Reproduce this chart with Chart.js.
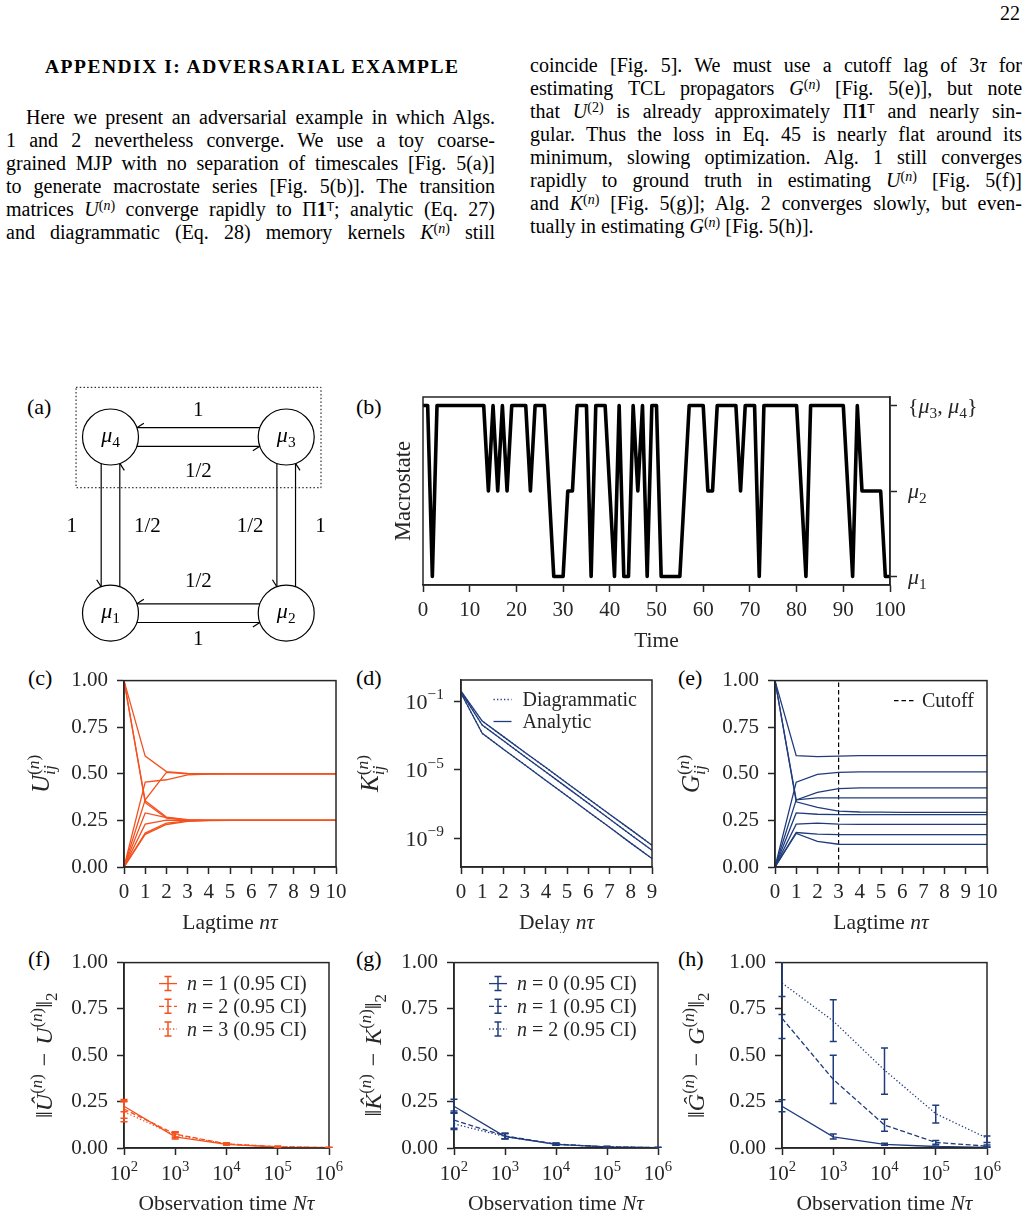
<!DOCTYPE html>
<html>
<head>
<meta charset="utf-8">
<script src="https://cdn.jsdelivr.net/npm/chart.js@4.4.0/dist/chart.umd.min.js"></script>
<style>
body { margin: 0; background: #fff; }
#page { position: relative; width: 1028px; height: 1217px; overflow: hidden; font-family: "Liberation Serif", "DejaVu Serif", serif; color: #000; }
.ln { position: absolute; font-size: 20px; line-height: 23px; white-space: nowrap; text-align: justify; text-align-last: justify; }
.ln.last { text-align: left; text-align-last: left; }
sup { font-size: 0.7em; vertical-align: 0; position: relative; top: -0.45em; line-height: 0; }
.sf { font-family: "DejaVu Sans", sans-serif; font-size: 0.6em; }
.pl { position: absolute; font-size: 22px; line-height: 22px; }
#head { position: absolute; left: 45px; top: 55px; font-size: 19.5px; font-weight: bold; line-height: 23px; white-space: nowrap; }
#pgno { position: absolute; left: 1000px; top: 2px; font-size: 20px; line-height: 23px; }
canvas { position: absolute; }
</style>
</head>
<body>
<div id="page">
  <div id="pgno">22</div>
  <div id="head" data-w="413">APPENDIX I: ADVERSARIAL EXAMPLE</div>

  <div class="ln" style="left:26px;top:106px;width:469px">Here we present an adversarial example in which Algs.</div>
  <div class="ln" style="left:6px;top:129px;width:489px">1 and 2 nevertheless converge. We use a toy coarse-</div>
  <div class="ln" style="left:6px;top:152px;width:489px">grained MJP with no separation of timescales [Fig. 5(a)]</div>
  <div class="ln" style="left:6px;top:175px;width:489px">to generate macrostate series [Fig. 5(b)]. The transition</div>
  <div class="ln" style="left:6px;top:198px;width:489px">matrices <i>U</i><sup>(<i>n</i>)</sup> converge rapidly to Π<b>1</b><sup class="sf">T</sup>; analytic (Eq. 27)</div>
  <div class="ln" style="left:6px;top:221px;width:489px">and diagrammatic (Eq. 28) memory kernels <i>K</i><sup>(<i>n</i>)</sup> still</div>

  <div class="ln" style="left:530px;top:54px;width:492px">coincide [Fig. 5]. We must use a cutoff lag of 3<i>τ</i> for</div>
  <div class="ln" style="left:530px;top:77px;width:492px">estimating TCL propagators <i>G</i><sup>(<i>n</i>)</sup> [Fig. 5(e)], but note</div>
  <div class="ln" style="left:530px;top:100px;width:492px">that <i>U</i><sup>(2)</sup> is already approximately Π<b>1</b><sup class="sf">T</sup> and nearly sin-</div>
  <div class="ln" style="left:530px;top:123px;width:492px">gular. Thus the loss in Eq. 45 is nearly flat around its</div>
  <div class="ln" style="left:530px;top:146px;width:492px">minimum, slowing optimization. Alg. 1 still converges</div>
  <div class="ln" style="left:530px;top:169px;width:492px">rapidly to ground truth in estimating <i>U</i><sup>(<i>n</i>)</sup> [Fig. 5(f)]</div>
  <div class="ln" style="left:530px;top:192px;width:492px">and <i>K</i><sup>(<i>n</i>)</sup> [Fig. 5(g)]; Alg. 2 converges slowly, but even-</div>
  <div class="ln last" style="left:530px;top:215px;width:492px">tually in estimating <i>G</i><sup>(<i>n</i>)</sup> [Fig. 5(h)].</div>

  <div class="pl" style="left:27px;top:396px">(a)</div>
  <div class="pl" style="left:356px;top:396px">(b)</div>
  <div class="pl" style="left:28px;top:667px">(c)</div>
  <div class="pl" style="left:356px;top:667px">(d)</div>
  <div class="pl" style="left:678px;top:667px">(e)</div>
  <div class="pl" style="left:28px;top:948px">(f)</div>
  <div class="pl" style="left:356px;top:948px">(g)</div>
  <div class="pl" style="left:678px;top:948px">(h)</div>
</div>

<script>
const SERIF = '"Liberation Serif", "DejaVu Serif", serif';
const SANS = '"DejaVu Sans", sans-serif';
const INK = '#262626';
const ORANGE = '#f4511e';
const NAVY = '#203c7c';

// (a) toy MJP: mu1..mu4 at the corners of a unit square
const nodeX = [0, 1, 1, 0];
const nodeY = [0, 0, 1, 1];
const nodeTags = ['1', '2', '3', '4'];
const edgeFrom = [2, 3, 3, 0, 2, 1, 1, 0];
const edgeTo   = [3, 2, 0, 3, 1, 2, 0, 1];
const edgeRate = ['1', '1/2', '1', '1/2', '1/2', '1', '1/2', '1'];
const boxX = [-0.196, 1.198, 1.198, -0.196, -0.196];
const boxY = [1.282, 1.282, 0.712, 0.712, 1.282];

// (b) macrostate series: 0 = mu1, 1 = mu2, 2 = {mu3, mu4}
const timeAxis = Array.from({ length: 101 }, (_, i) => i);
const macrostate = [
  2, 2, 0, 2, 2, 2, 2, 2, 2, 2,
  2, 2, 2, 2, 1, 2, 1, 2, 1, 2,
  2, 2, 2, 1, 2, 2, 2, 1, 0, 0,
  0, 1, 1, 2, 2, 2, 0, 2, 2, 2,
  1, 0, 2, 0, 0, 2, 1, 2, 0, 2,
  2, 0, 0, 0, 0, 0, 1, 2, 2, 2,
  2, 1, 1, 2, 2, 2, 2, 2, 1, 2,
  2, 2, 0, 2, 2, 2, 2, 2, 2, 2,
  2, 1, 0, 2, 2, 2, 2, 2, 2, 2,
  2, 1, 0, 2, 1, 1, 1, 1, 1, 0,
  0
];
const macroTicks = [0, 1, 2];
const macroLabels = [
  [['μ', 'i'], ['1', '_']],
  [['μ', 'i'], ['2', '_']],
  [['{'], ['μ', 'i'], ['3', '_'], [', '], ['μ', 'i'], ['4', '_'], ['}']]
];

// (c) transition matrices U_ij(n)
const lagN = [0, 1, 2, 3, 4, 5, 6, 7, 8, 9, 10];
const uCurves = [
  [1, 0.595, 0.512, 0.502, 0.500, 0.500, 0.500, 0.500, 0.500, 0.500, 0.500],
  [0, 0.455, 0.468, 0.494, 0.499, 0.500, 0.500, 0.500, 0.500, 0.500, 0.500],
  [0, 0.360, 0.508, 0.500, 0.500, 0.500, 0.500, 0.500, 0.500, 0.500, 0.500],
  [1, 0.355, 0.268, 0.254, 0.251, 0.250, 0.250, 0.250, 0.250, 0.250, 0.250],
  [1, 0.345, 0.262, 0.252, 0.250, 0.250, 0.250, 0.250, 0.250, 0.250, 0.250],
  [0, 0.290, 0.265, 0.252, 0.250, 0.250, 0.250, 0.250, 0.250, 0.250, 0.250],
  [0, 0.230, 0.252, 0.250, 0.250, 0.250, 0.250, 0.250, 0.250, 0.250, 0.250],
  [0, 0.182, 0.235, 0.247, 0.250, 0.250, 0.250, 0.250, 0.250, 0.250, 0.250],
  [0, 0.175, 0.228, 0.245, 0.249, 0.250, 0.250, 0.250, 0.250, 0.250, 0.250]
];

// (d) memory kernels K_ij(n)
const delayN = [0, 1, 2, 3, 4, 5, 6, 7, 8, 9];
const kCurves = [
  [0.40, 7.1e-3, 8.7e-4, 1.07e-4, 1.35e-5, 1.66e-6, 2.04e-7, 2.5e-8, 3.2e-9, 3.9e-10],
  [0.35, 4.1e-3, 5.0e-4, 6.0e-5, 7.4e-6, 9.1e-7, 1.1e-7, 1.35e-8, 1.6e-9, 2.0e-10],
  [0.30, 1.35e-3, 1.6e-4, 2.0e-5, 2.4e-6, 2.95e-7, 3.5e-8, 4.4e-9, 5.2e-10, 6.5e-11]
];
const kTicks = [1e-9, 1e-5, 1e-1];
const kTickLabels = [
  [['10'], ['−9', '^']],
  [['10'], ['−5', '^']],
  [['10'], ['−1', '^']]
];

// (e) TCL propagators G_ij(n)
const gCurves = [
  [1, 0.597, 0.592, 0.595, 0.597, 0.597, 0.597, 0.597, 0.597, 0.597, 0.597],
  [0, 0.455, 0.497, 0.508, 0.510, 0.510, 0.510, 0.510, 0.510, 0.510, 0.510],
  [0, 0.360, 0.400, 0.420, 0.424, 0.425, 0.425, 0.425, 0.425, 0.425, 0.425],
  [1, 0.360, 0.371, 0.371, 0.371, 0.371, 0.371, 0.371, 0.371, 0.371, 0.371],
  [1, 0.350, 0.320, 0.300, 0.295, 0.294, 0.293, 0.293, 0.293, 0.293, 0.293],
  [0, 0.290, 0.283, 0.281, 0.281, 0.281, 0.281, 0.281, 0.281, 0.281, 0.281],
  [0, 0.230, 0.235, 0.230, 0.229, 0.229, 0.229, 0.229, 0.229, 0.229, 0.229],
  [0, 0.185, 0.176, 0.174, 0.174, 0.174, 0.174, 0.174, 0.174, 0.174, 0.174],
  [0, 0.180, 0.137, 0.122, 0.121, 0.121, 0.121, 0.121, 0.121, 0.121, 0.121]
];
const cutoffLag = 3;

// (f)-(h) estimation error vs observation time, with 0.95 CI
const obsTimes = [1e2, 1e3, 1e4, 1e5, 1e6];
const obsTickLabels = [
  [['10'], ['2', '^']], [['10'], ['3', '^']], [['10'], ['4', '^']], [['10'], ['5', '^']], [['10'], ['6', '^']]
];
const uErrMean = [[0.225, 0.060, 0.020, 0.005, 0.002], [0.210, 0.075, 0.022, 0.007, 0.002], [0.195, 0.070, 0.022, 0.007, 0.002]];
const uErrLo   = [[0.195, 0.048, 0.016, 0.003, 0.001], [0.160, 0.060, 0.018, 0.005, 0.001], [0.142, 0.055, 0.017, 0.005, 0.001]];
const uErrHi   = [[0.262, 0.075, 0.025, 0.007, 0.003], [0.255, 0.088, 0.027, 0.009, 0.003], [0.250, 0.085, 0.027, 0.009, 0.003]];
const kErrMean = [[0.225, 0.062, 0.020, 0.006, 0.002], [0.150, 0.065, 0.021, 0.006, 0.002], [0.130, 0.062, 0.020, 0.006, 0.002]];
const kErrLo   = [[0.190, 0.050, 0.016, 0.004, 0.001], [0.107, 0.050, 0.016, 0.004, 0.001], [0.100, 0.050, 0.015, 0.004, 0.001]];
const kErrHi   = [[0.263, 0.078, 0.025, 0.008, 0.003], [0.200, 0.080, 0.026, 0.008, 0.003], [0.187, 0.078, 0.025, 0.008, 0.003]];
const gErrMean = [[0.225, 0.060, 0.020, 0.008, 0.003], [0.700, 0.370, 0.124, 0.030, 0.010], [0.890, 0.685, 0.420, 0.185, 0.053]];
const gErrLo   = [[0.195, 0.048, 0.015, 0.005, 0.001], [0.590, 0.240, 0.090, 0.020, 0.004], [0.817, 0.575, 0.290, 0.135, 0.030]];
const gErrHi   = [[0.260, 0.075, 0.025, 0.011, 0.005], [0.720, 0.500, 0.155, 0.040, 0.016], [1.020, 0.800, 0.540, 0.230, 0.065]];

const styles = [[], [5, 2.5], [1.3, 2.2]];

Chart.defaults.font.family = SERIF;
Chart.defaults.font.size = 21;
Chart.defaults.color = INK;
Chart.defaults.animation = false;
Chart.defaults.plugins.legend.display = false;
Chart.defaults.plugins.tooltip.enabled = false;
Chart.defaults.elements.point.radius = 0;
Chart.defaults.layout.autoPadding = false;

// text with italics, super- and subscripts; y is the vertical centre
function drawMath(ctx, parts, x, y, fs, align) {
  const items = [];
  let pen = 0, supStart = null, supEnd = 0, subPen = null;
  for (const p of parts) {
    const t = p[0], f = p[1] || '';
    const small = f.includes('^') || f.includes('_');
    const size = small ? fs * 0.7 : fs;
    const font = (f.includes('i') ? 'italic ' : '') + (f.includes('b') ? 'bold ' : '') + size.toFixed(1) + 'px ' + (f.includes('s') ? SANS : SERIF);
    ctx.font = font;
    const w = ctx.measureText(t).width;
    let x0;
    if (f.includes('^')) { if (supStart === null) supStart = pen; x0 = pen; pen += w; supEnd = pen; subPen = null; }
    else if (f.includes('<')) { if (subPen === null) subPen = supStart; x0 = subPen; subPen += w; pen = Math.max(supEnd, subPen); }
    else { supStart = null; subPen = null; x0 = pen; pen += w; }
    const dy = f.includes('^') ? -fs * 0.42 : (f.includes('_') ? fs * 0.22 : 0);
    items.push({ t, font, x0, dy });
  }
  const start = align === 'center' ? x - pen / 2 : (align === 'right' ? x - pen : x);
  ctx.textAlign = 'left';
  ctx.textBaseline = 'alphabetic';
  for (const it of items) {
    ctx.font = it.font;
    ctx.fillText(it.t, start + it.x0, y + fs * 0.33 + it.dy);
  }
}

function drawLegend(ctx, lg) {
  lg.items.forEach((it, k) => {
    const y = lg.y + k * lg.rowH;
    ctx.save();
    ctx.strokeStyle = it.color;
    ctx.lineWidth = 1.3;
    ctx.setLineDash(it.dash);
    ctx.beginPath(); ctx.moveTo(lg.x, y); ctx.lineTo(lg.x + lg.len, y); ctx.stroke();
    if (it.err) {
      const cx = lg.x + lg.len / 2;
      ctx.setLineDash([]);
      ctx.lineWidth = 1.5;
      ctx.beginPath();
      ctx.moveTo(cx, y - 7); ctx.lineTo(cx, y + 7);
      ctx.moveTo(cx - 3.5, y - 7); ctx.lineTo(cx + 3.5, y - 7);
      ctx.moveTo(cx - 3.5, y + 7); ctx.lineTo(cx + 3.5, y + 7);
      ctx.stroke();
    }
    ctx.restore();
    ctx.fillStyle = INK;
    drawMath(ctx, it.parts, lg.x + lg.textGap, y, 20, 'left');
  });
}

function drawErrors(chart, list) {
  const ctx = chart.ctx, xs = chart.scales.x, ys = chart.scales.y, a = chart.chartArea;
  ctx.save();
  ctx.beginPath(); ctx.rect(a.left - 12, a.top, a.right - a.left + 24, a.bottom - a.top); ctx.clip();
  ctx.lineWidth = 1.5;
  list.forEach(e => {
    ctx.strokeStyle = e.color;
    obsTimes.forEach((t, i) => {
      const px = xs.getPixelForValue(t), p1 = ys.getPixelForValue(e.lo[i]), p2 = ys.getPixelForValue(e.hi[i]);
      ctx.beginPath();
      ctx.moveTo(px, p1); ctx.lineTo(px, p2);
      ctx.moveTo(px - 3.5, p1); ctx.lineTo(px + 3.5, p1);
      ctx.moveTo(px - 3.5, p2); ctx.lineTo(px + 3.5, p2);
      ctx.stroke();
    });
  });
  ctx.restore();
}

Chart.register({
  id: 'deco',
  afterDatasetsDraw(chart) {
    const o = chart.canvas.deco;
    if (!o) return;
    const ctx = chart.ctx, a = chart.chartArea;
    if (o.frame) {
      ctx.save();
      ctx.strokeStyle = INK; ctx.lineWidth = 1.5;
      ctx.strokeRect(a.left, a.top, a.right - a.left, a.bottom - a.top);
      ctx.restore();
    }
    if (o.errors) drawErrors(chart, o.errors);
    if (o.extra) { ctx.save(); o.extra(chart, ctx); ctx.restore(); }
    ctx.save();
    ctx.fillStyle = INK;
    if (o.xLabels) {
      const xs = chart.scales.x;
      o.xLabels.vals.forEach((v, i) => drawMath(ctx, o.xLabels.parts[i], xs.getPixelForValue(v), a.bottom + 25, 21, 'center'));
    }
    if (o.yLabels) {
      const ys = chart.scales.y;
      o.yLabels.vals.forEach((v, i) => drawMath(ctx, o.yLabels.parts[i], o.yLabels.x(a), ys.getPixelForValue(v), o.yLabels.fs || 21, o.yLabels.align));
    }
    if (o.xTitle) drawMath(ctx, o.xTitle, (a.left + a.right) / 2, a.bottom + 54.5, 21.5, 'center');
    if (o.yTitle) {
      ctx.translate(a.left - o.yGap, (a.top + a.bottom) / 2);
      ctx.rotate(-Math.PI / 2);
      drawMath(ctx, o.yTitle, 0, 0, o.yFs || 21.5, 'center');
    }
    ctx.restore();
    if (o.legend) { ctx.save(); drawLegend(ctx, o.legend(a)); ctx.restore(); }
  }
});

function axisLook() {
  return {
    grid: { display: true, drawOnChartArea: false, drawTicks: true, tickLength: 7, tickWidth: 1.5, tickColor: INK, color: INK },
    border: { display: true, color: INK, width: 1.5 }
  };
}
function linAxis(min, max, step, fmt, pad) {
  return Object.assign(axisLook(), {
    type: 'linear', min: min, max: max,
    ticks: { stepSize: step, color: INK, font: { size: 21 }, padding: pad, maxRotation: 0, autoSkip: false, callback: fmt }
  });
}
function logAxis(min, max, tickVals) {
  return Object.assign(axisLook(), {
    type: 'logarithmic', min: min, max: max,
    afterBuildTicks: s => { s.ticks = tickVals.map(v => ({ value: v })); },
    ticks: { autoSkip: false, maxRotation: 0, callback: () => '' }
  });
}

function place(area, m, config, deco) {
  const cv = document.createElement('canvas');
  const w = area.r - area.l + m.l + m.r, h = area.b - area.t + m.t + m.b;
  cv.width = w; cv.height = h;
  cv.style.left = (area.l - m.l) + 'px'; cv.style.top = (area.t - m.t) + 'px';
  cv.style.width = w + 'px'; cv.style.height = h + 'px';
  document.getElementById('page').appendChild(cv);
  cv.deco = deco;
  const yRight = config.options.scales.y.position === 'right';
  config.options.responsive = false;
  config.options.events = [];
  config.options.layout = { autoPadding: false, padding: { left: yRight ? m.l : 0, right: yRight ? 0 : m.r, top: m.t, bottom: 0 } };
  config.options.scales.x.afterFit = s => { s.height = m.b; };
  config.options.scales.y.afterFit = s => { s.width = yRight ? m.r : m.l; };
  return new Chart(cv, config);
}

const fix2 = v => Number(v).toFixed(2);
const plain = v => v;
const xyOf = (xs, ys) => ys.map((v, i) => ({ x: xs[i], y: v }));

// ---- (a) diagram ----
const offU = 0.053, clipU = 0.150;
const labelDist = [0.16, 0.19, 0.22, 0.21, 0.205, 0.195, 0.19, 0.14];
function edgeGeom(k) {
  const a = edgeFrom[k], b = edgeTo[k];
  const d = { x: nodeX[b] - nodeX[a], y: nodeY[b] - nodeY[a] };
  const n = { x: d.y, y: -d.x };
  return {
    d, n,
    start: { x: nodeX[a] + n.x * offU + d.x * clipU, y: nodeY[a] + n.y * offU + d.y * clipU },
    end: { x: nodeX[b] + n.x * offU - d.x * clipU, y: nodeY[b] + n.y * offU - d.y * clipU }
  };
}
(function () {
  const cv = document.createElement('canvas');
  cv.width = 330; cv.height = 285;
  cv.style.left = '20px'; cv.style.top = '375px'; cv.style.width = '330px'; cv.style.height = '285px';
  document.getElementById('page').appendChild(cv);
  const datasets = [{
    data: xyOf(nodeX, nodeY), showLine: false, pointRadius: 28,
    pointBackgroundColor: '#fff', pointBorderColor: '#000', pointBorderWidth: 1.2
  }];
  edgeFrom.forEach((f, k) => {
    const g = edgeGeom(k);
    datasets.push({ data: [g.start, g.end], showLine: true, borderColor: '#000', borderWidth: 1.2, pointRadius: 0 });
  });
  datasets.push({ data: xyOf(boxX, boxY), showLine: true, borderColor: '#000', borderWidth: 1, borderDash: [1.5, 2.2], pointRadius: 0 });
  cv.deco = {
    extra(chart, ctx) {
      const xs = chart.scales.x, ys = chart.scales.y;
      ctx.strokeStyle = '#000'; ctx.lineWidth = 1.2; ctx.fillStyle = '#000';
      edgeFrom.forEach((f, k) => {
        const g = edgeGeom(k);
        const tx = xs.getPixelForValue(g.end.x), ty = ys.getPixelForValue(g.end.y);
        ctx.beginPath();
        ctx.moveTo(tx, ty);
        ctx.lineTo(tx - g.d.x * 7 + g.n.x * 4.5, ty + g.d.y * 7 - g.n.y * 4.5);
        ctx.stroke();
        const mx = (nodeX[f] + nodeX[edgeTo[k]]) / 2 + g.n.x * labelDist[k];
        const my = (nodeY[f] + nodeY[edgeTo[k]]) / 2 + g.n.y * labelDist[k];
        drawMath(ctx, [[edgeRate[k]]], xs.getPixelForValue(mx), ys.getPixelForValue(my), 21, 'center');
      });
      nodeX.forEach((x, i) => {
        drawMath(ctx, [['μ', 'i'], [nodeTags[i], '_']], xs.getPixelForValue(x), ys.getPixelForValue(nodeY[i]) - 2, 22, 'center');
      });
    }
  };
  new Chart(cv, {
    type: 'scatter',
    data: { datasets },
    options: {
      responsive: false, events: [], layout: { autoPadding: false, padding: 0 },
      scales: { x: { display: false, min: -0.515, max: 1.363 }, y: { display: false, min: -0.266, max: 1.352 } }
    }
  });
})();

// ---- (b) macrostate series ----
place({ l: 423, t: 397, r: 890, b: 585 }, { l: 45, t: 20, r: 130, b: 62 }, {
  type: 'line',
  data: { datasets: [{ data: xyOf(timeAxis, macrostate), borderColor: '#000', borderWidth: 3.6, borderJoinStyle: 'round' }] },
  options: {
    scales: {
      x: linAxis(0, 100, 10, plain, 6),
      y: Object.assign(linAxis(-0.1, 2.1, 1, () => '', 4), {
        position: 'right',
        afterBuildTicks: s => { s.ticks = macroTicks.map(v => ({ value: v })); }
      })
    }
  }
}, {
  frame: true,
  yLabels: { vals: macroTicks, parts: macroLabels, x: a => a.right + 18, align: 'left', fs: 22 },
  xTitle: [['Time']],
  yTitle: [['Macrostate']], yGap: 20, yFs: 22.5
});

// ---- (c) U ----
const ijTitle = L => [[L, 'i'], ['(', '^'], ['n', '^i'], [')', '^'], ['ij', '_i<']];
place({ l: 124, t: 679, r: 336, b: 867 }, { l: 104, t: 20, r: 25, b: 66 }, {
  type: 'line',
  data: { datasets: uCurves.map(c => ({ data: xyOf(lagN, c), borderColor: ORANGE, borderWidth: 1.3 })) },
  options: { scales: { x: linAxis(0, 10, 1, plain, 6), y: linAxis(0, 1, 0.25, fix2, 9) } }
}, {
  frame: true,
  xTitle: [['Lagtime '], ['nτ', 'i']],
  yTitle: ijTitle('U'), yGap: 83, yFs: 25
});

// ---- (d) K ----
const kSets = [];
kCurves.forEach(c => {
  kSets.push({ data: xyOf(delayN, c), borderColor: NAVY, borderWidth: 1.3, borderDash: styles[2] });
  kSets.push({ data: xyOf(delayN, c), borderColor: NAVY, borderWidth: 1.3 });
});
place({ l: 461, t: 680, r: 652, b: 867 }, { l: 104, t: 20, r: 25, b: 66 }, {
  type: 'line',
  data: { datasets: kSets },
  options: { scales: { x: linAxis(0, 9, 1, plain, 6), y: logAxis(Math.pow(10, -10.68), Math.pow(10, 0.25), kTicks) } }
}, {
  frame: true,
  yLabels: { vals: kTicks, parts: kTickLabels, x: a => a.left - 17, align: 'right', fs: 22 },
  xTitle: [['Delay '], ['nτ', 'i']],
  yTitle: ijTitle('K'), yGap: 91, yFs: 25,
  legend: a => ({ x: a.left + 32.5, y: a.top + 19.5, rowH: 22, len: 18, textGap: 29, items: [
    { color: NAVY, dash: styles[2], parts: [['Diagrammatic']] },
    { color: NAVY, dash: [], parts: [['Analytic']] }
  ] })
});

// ---- (e) G ----
const gSets = gCurves.map(c => ({ data: xyOf(lagN, c), borderColor: NAVY, borderWidth: 1.3 }));
gSets.push({ data: [{ x: cutoffLag, y: 0 }, { x: cutoffLag, y: 1 }], borderColor: '#000', borderWidth: 1.2, borderDash: [4.5, 3] });
place({ l: 775, t: 679, r: 987, b: 867 }, { l: 100, t: 20, r: 25, b: 66 }, {
  type: 'line',
  data: { datasets: gSets },
  options: { scales: { x: linAxis(0, 10, 1, plain, 6), y: linAxis(0, 1, 0.25, fix2, 9) } }
}, {
  frame: true,
  xTitle: [['Lagtime '], ['nτ', 'i']],
  yTitle: ijTitle('G'), yGap: 84, yFs: 25,
  legend: a => ({ x: a.right - 93, y: a.top + 20, rowH: 22, len: 22, textGap: 28, items: [
    { color: '#000', dash: [4.5, 3], parts: [['Cutoff']] }
  ] })
});

// ---- (f)(g)(h) errors ----
function errPanel(area, gap, mean, lo, hi, color, nums, letter) {
  const sets = mean.map((m, k) => ({ data: xyOf(obsTimes, m), borderColor: color, borderWidth: 1.3, borderDash: styles[k] }));
  const hat = letter + '\u0302';
  place(area, { l: gap + 20, t: 20, r: 30, b: 66 }, {
    type: 'line',
    data: { datasets: sets },
    options: { scales: { x: logAxis(1e2, 1e6, obsTimes), y: linAxis(0, 1, 0.25, fix2, 9) } }
  }, {
    frame: true,
    errors: mean.map((m, k) => ({ color, lo: lo[k], hi: hi[k] })),
    xLabels: { vals: obsTimes, parts: obsTickLabels },
    xTitle: [['Observation time '], ['Nτ', 'i']],
    yTitle: [['‖'], [hat, 'i'], ['(', '^'], ['n', '^i'], [')', '^'], ['\u2004−\u2004'], [letter, 'i'], ['(', '^'], ['n', '^i'], [')', '^'], ['‖'], ['2', '_']],
    yGap: gap, yFs: 24,
    legend: nums ? a => ({ x: a.left + 35, y: a.top + 21, rowH: 22.7, len: 18, textGap: 28, items: nums.map((nv, k) => (
      { color, dash: styles[k], err: true, parts: [['n', 'i'], [' = ' + nv + ' (0.95 CI)']] }
    )) }) : null
  });
}
errPanel({ l: 124, t: 961, r: 329, b: 1148 }, 80, uErrMean, uErrLo, uErrHi, ORANGE, ['1', '2', '3'], 'U');
errPanel({ l: 454, t: 961, r: 658, b: 1148 }, 81, kErrMean, kErrLo, kErrHi, NAVY, ['0', '1', '2'], 'K');
errPanel({ l: 782, t: 961, r: 987, b: 1148 }, 86, gErrMean, gErrLo, gErrHi, NAVY, null, 'G');

// stretch the bold heading to the column width
const head = document.getElementById('head');
const natural = head.getBoundingClientRect().width;
head.style.letterSpacing = ((Number(head.dataset.w) - natural) / (head.textContent.length - 1)) + 'px';
</script>
</body>
</html>
